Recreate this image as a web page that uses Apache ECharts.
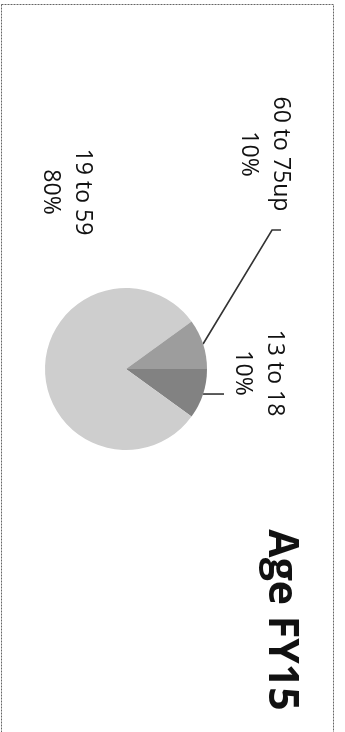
<!DOCTYPE html>
<html><head><meta charset="utf-8">
<script src="https://cdn.jsdelivr.net/npm/echarts@6/dist/echarts.min.js"></script>
<style>html,body{margin:0;padding:0;background:#fff}#c{width:345px;height:732px}</style>
</head><body><div id="c"></div>
<script>
const categories = ['13 to 18', '19 to 59', '60 to 75up'];
const values = [10, 80, 10];
const titleText = 'Age FY15';

const sliceColors = ['#828282', '#cecece', '#9d9d9d'];
const pieCenter = [126, 369];
const pieRadius = 81;
// label block centres relative to the pie centre (layout only)
const labelOffsets = [[133, 4], [-59, -177], [139, -215]];

const chart = echarts.init(document.getElementById('c'));
chart.setOption({
  animation: false,
  graphic: [
    { type: 'rect', shape: { x: 1.5, y: 4.5, width: 332, height: 740 },
      style: { fill: 'none', stroke: '#666', lineWidth: 1, lineDash: [2, 1] }, silent: true },
    { type: 'text', x: 281, y: 620, rotation: -Math.PI / 2,
      style: { text: titleText, font: 'bold 41px "Open Sans"', fill: '#111',
               align: 'center', verticalAlign: 'middle' } }
  ],
  series: [{
    type: 'pie',
    center: pieCenter,
    radius: pieRadius,
    startAngle: 0,
    clockwise: true,
    avoidLabelOverlap: false,
    itemStyle: { borderWidth: 0 },
    label: {
      show: true, position: 'outside', overflow: 'none', alignTo: 'none',
      formatter: p => p.name + '\n' + p.value + '%',
      fontFamily: 'Open Sans', fontSize: 23, lineHeight: 32, color: '#111',
      align: 'center'
    },
    labelLine: { show: true, lineStyle: { color: '#333', width: 1.6 } },
    labelLayout: function (params) {
      const i = params.dataIndex;
      const a = params.labelLinePoints ? params.labelLinePoints[0] : [0, 0];
      const out = {
        x: pieCenter[0] + labelOffsets[i][0],
        y: pieCenter[1] + labelOffsets[i][1],
        rotate: -90, align: 'center', verticalAlign: 'middle', hideOverlap: false
      };
      if (i === 0) out.labelLinePoints = [a, [a[0] + 10, a[1]], [a[0] + 21, a[1]]];
      if (i === 2) out.labelLinePoints = [a, [a[0] + 69, a[1] - 114], [a[0] + 78, a[1] - 114]];
      return out;
    },
    data: categories.map((n, i) => ({
      name: n, value: values[i],
      itemStyle: { color: sliceColors[i] },
      labelLine: { show: i !== 1 }
    }))
  }]
});
</script></body></html>
